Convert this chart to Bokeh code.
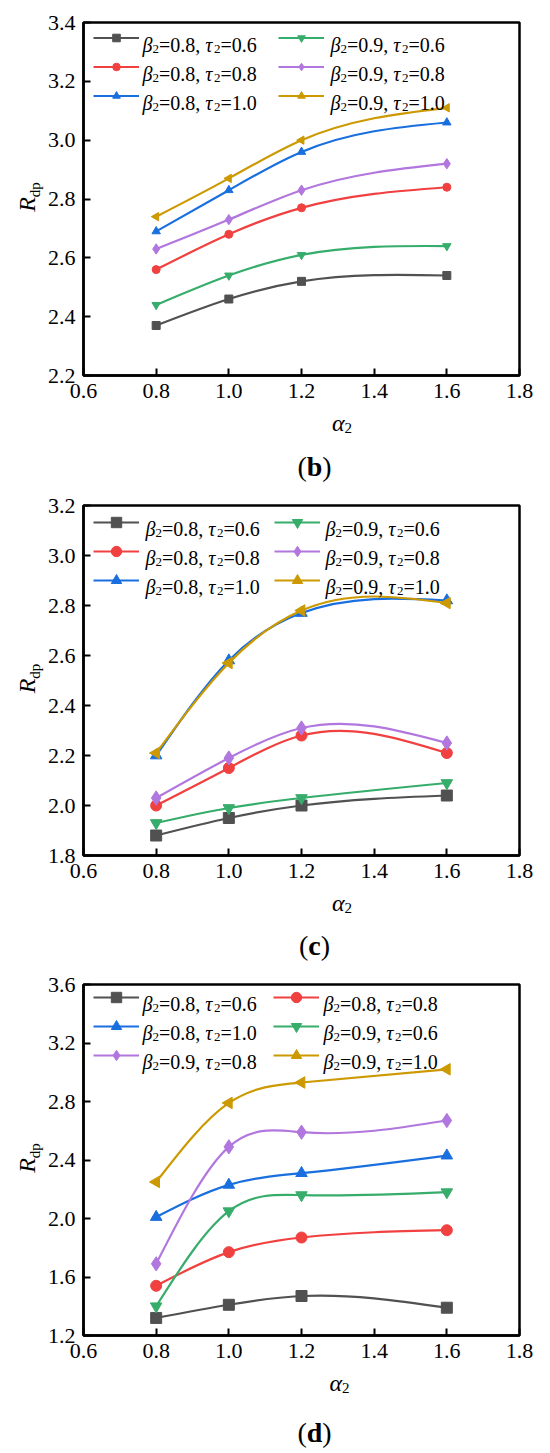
import numpy as np
from bokeh.plotting import figure
from bokeh.models import (Range1d, FixedTicker, PrintfTickFormatter, Label, Legend,
                          LegendItem, ColumnDataSource)
from bokeh.layouts import column, row
from bokeh.embed import file_html
from bokeh.resources import INLINE

FONT = "Liberation Serif"

# ---------------- data ----------------
alpha2 = [0.8, 1.0, 1.2, 1.6]
x_ticks = [0.6, 0.8, 1.0, 1.2, 1.4, 1.6, 1.8]

series_beta = ["0.8", "0.8", "0.8", "0.9", "0.9", "0.9"]
series_tau = ["0.6", "0.8", "1.0", "0.6", "0.8", "1.0"]

# panel (b)
b_b08_t06 = [2.37, 2.46, 2.52, 2.54]
b_b08_t08 = [2.56, 2.68, 2.77, 2.84]
b_b08_t10 = [2.69, 2.83, 2.96, 3.06]
b_b09_t06 = [2.44, 2.54, 2.61, 2.64]
b_b09_t08 = [2.63, 2.73, 2.83, 2.92]
b_b09_t10 = [2.74, 2.87, 3.00, 3.11]
b_y_ticks = [2.2, 2.4, 2.6, 2.8, 3.0, 3.2, 3.4]

# panel (c)
c_b08_t06 = [1.88, 1.95, 2.00, 2.04]
c_b08_t08 = [2.00, 2.15, 2.28, 2.21]
c_b08_t10 = [2.20, 2.58, 2.77, 2.82]
c_b09_t06 = [1.93, 1.99, 2.03, 2.09]
c_b09_t08 = [2.03, 2.19, 2.31, 2.25]
c_b09_t10 = [2.21, 2.57, 2.78, 2.81]
c_y_ticks = [1.8, 2.0, 2.2, 2.4, 2.6, 2.8, 3.0, 3.2]

# panel (d)
d_b08_t06 = [1.32, 1.41, 1.47, 1.39]
d_b08_t08 = [1.54, 1.77, 1.87, 1.92]
d_b08_t10 = [2.01, 2.23, 2.31, 2.43]
d_b09_t06 = [1.40, 2.05, 2.16, 2.18]
d_b09_t08 = [1.69, 2.49, 2.59, 2.67]
d_b09_t10 = [2.25, 2.79, 2.93, 3.02]
d_y_ticks = [1.2, 1.6, 2.0, 2.4, 2.8, 3.2, 3.6]

# ---------------- styles ----------------
colors = ["#515151", "#F14040", "#1A6FDF", "#37AD6B", "#B177DE", "#CC9900"]
markers = ["square", "circle", "triangle", "inverted_triangle", "diamond", "triangle"]
marker_angles = [0, 0, 0, 0, 0, np.pi / 2]
marker_scale = [1.0, 1.0, 1.05, 1.05, 1.3, 1.05]

W_REG = {ch: 0.5 for ch in "0123456789dp"}
W_REG.update({".": 0.25, ",": 0.25, " ": 0.25, "=": 0.564, "(": 0.333, ")": 0.333})
W_IT = {"β": 0.5, "τ": 0.44, "α": 0.52, "R": 0.611}
W_BOLD = {"b": 0.556, "c": 0.444, "d": 0.556}

PAGE_W, PAGE_H = 550, 1453
LEFT_W = 44
RIGHT_W = PAGE_W - LEFT_W


def text_width(text, size, style):
    tbl = W_IT if style == "italic" else (W_BOLD if style == "bold" else W_REG)
    return sum(tbl.get(ch, W_REG.get(ch, 0.5)) for ch in text) * size


def put(p, fx, fy, text, size, style="normal", angle=0.0):
    # fx, fy: pixels from the top-left corner of p's frame
    p.add_layout(Label(x=p.x_range.start, y=p.y_range.end, x_units="data", y_units="data",
                       x_offset=fx, y_offset=-fy, text=text, angle=angle,
                       text_font=FONT, text_font_size=f"{size}px", text_font_style=style,
                       text_color="black", text_align="left", text_baseline="alphabetic"))


def rich(p, fx, fy, pieces, center=False):
    total = sum(text_width(t, s, st) for t, s, st, d in pieces)
    pos = fx - total / 2 if center else fx
    for t, s, st, d in pieces:
        put(p, pos, fy + d, t, s, st)
        pos += text_width(t, s, st)


def rich_vertical(p, fx, fy_center, pieces):
    total = sum(text_width(t, s, st) for t, s, st, d in pieces)
    pos = fy_center + total / 2
    for t, s, st, d in pieces:
        put(p, fx + d, pos, t, s, st, angle=np.pi / 2)
        pos -= text_width(t, s, st)


def spline_bezier(x, y):
    x = np.asarray(x, float)
    y = np.asarray(y, float)
    n = len(x)
    h = np.diff(x)
    A = np.zeros((n, n))
    r = np.zeros(n)
    A[0, 0] = A[-1, -1] = 1.0
    for i in range(1, n - 1):
        A[i, i - 1] = h[i - 1]
        A[i, i] = 2 * (h[i - 1] + h[i])
        A[i, i + 1] = h[i]
        r[i] = 6 * ((y[i + 1] - y[i]) / h[i] - (y[i] - y[i - 1]) / h[i - 1])
    M = np.linalg.solve(A, r)
    d = np.diff(y) / h
    m0 = d - h * (2 * M[:-1] + M[1:]) / 6
    m1 = d + h * (M[:-1] + 2 * M[1:]) / 6
    return dict(x0=x[:-1], y0=y[:-1], x1=x[1:], y1=y[1:],
                cx0=x[:-1] + h / 3, cy0=y[:-1] + m0 * h / 3,
                cx1=x[1:] - h / 3, cy1=y[1:] - m1 * h / 3)


def legend_pieces(beta, tau):
    return [("β", 20, "italic", 0), ("2", 13, "normal", 4), ("=" + beta + ",", 20, "normal", 0),
            (" ", 20, "normal", 0), ("τ", 20, "italic", 0), ("2", 13, "normal", 4),
            ("=" + tau, 20, "normal", 0)]


def blank_fig(w, h):
    p = figure(width=w, height=h, x_range=Range1d(0, w), y_range=Range1d(0, h),
               x_axis_type=None, y_axis_type=None, output_backend="svg",
               toolbar_location=None, min_border=0)
    p.outline_line_color = None
    p.background_fill_color = "white"
    p.border_fill_color = "white"
    p.grid.visible = False
    return p


def make_panel(series, y_ticks, cfg):
    height = cfg["top"] + cfg["fh"] + cfg["bottom"]
    p = figure(width=RIGHT_W, height=height, x_range=Range1d(0.6, 1.8),
               y_range=Range1d(y_ticks[0], y_ticks[-1]), output_backend="svg",
               toolbar_location=None, min_border_left=cfg["left"], min_border_right=cfg["right"],
               min_border_top=cfg["top"], min_border_bottom=cfg["bottom"])
    p.background_fill_color = "white"
    p.border_fill_color = "white"
    p.xgrid.visible = False
    p.ygrid.visible = False
    p.outline_line_color = "black"
    p.outline_line_width = 2.5
    p.xaxis.ticker = FixedTicker(ticks=x_ticks)
    p.yaxis.ticker = FixedTicker(ticks=y_ticks)
    p.axis.formatter = PrintfTickFormatter(format="%.1f")
    p.axis.axis_line_width = 2.5
    p.axis.axis_line_color = "black"
    p.axis.major_tick_line_width = 2
    p.axis.major_tick_line_color = "black"
    p.axis.major_tick_in = 7
    p.axis.major_tick_out = 0
    p.axis.minor_tick_line_color = None
    p.axis.major_label_text_font = FONT
    p.axis.major_label_text_font_size = "22px"
    p.axis.major_label_text_color = "black"
    p.xaxis.major_label_standoff = 8
    p.yaxis.major_label_standoff = 8

    items = []
    for i, ys in enumerate(series):
        src = ColumnDataSource(spline_bezier(alpha2, ys))
        br = p.bezier(x0="x0", y0="y0", x1="x1", y1="y1", cx0="cx0", cy0="cy0",
                      cx1="cx1", cy1="cy1", source=src, line_color=colors[i], line_width=2.2)
        sr = p.scatter(alpha2, ys, marker=markers[i], angle=marker_angles[i],
                       size=cfg["msize"] * marker_scale[i], fill_color=colors[i],
                       line_color=colors[i])
        items.append(LegendItem(label=" ", renderers=[br, sr]))

    gh, sp, fh = cfg["gh"], cfg["sp"], cfg["fh"]
    for col, idxs in enumerate(cfg["cols"]):
        n = len(idxs)
        lh = n * gh + (n - 1) * sp
        leg = Legend(items=[items[k] for k in idxs],
                     location=(cfg["leg_x"][col], fh - cfg["leg_y"] - lh),
                     orientation="vertical", glyph_width=46, glyph_height=gh, label_height=gh,
                     label_width=0, label_standoff=0, spacing=sp, padding=0, margin=0,
                     border_line_color=None, background_fill_alpha=0, label_text_font_size="1px")
        p.add_layout(leg)
        for r_, k in enumerate(idxs):
            yb = cfg["leg_y"] + gh / 2 + r_ * (gh + sp) + 6.5
            rich(p, cfg["txt_x"][col], yb, legend_pieces(series_beta[k], series_tau[k]))
    return p


def make_below(h, cfg, letter):
    q = blank_fig(RIGHT_W, h)
    fw = RIGHT_W - cfg["left"] - cfg["right"]
    cx = cfg["left"] + fw / 2
    rich(q, cx, cfg["xlab_y"], [("α", 24, "italic", 0), ("2", 15, "normal", 5)], center=True)
    rich(q, PAGE_W / 2 - LEFT_W, cfg["cap_y"],
         [("(", 28, "normal", 0), (letter, 28, "bold", 0), (")", 28, "normal", 0)], center=True)
    return q


cfg_b = dict(top=22, fh=353, bottom=34, left=39, right=28, msize=8, gh=19, sp=10,
             cols=[[0, 1, 2], [3, 4, 5]], leg_x=[10, 195], leg_y=6, txt_x=[59, 247],
             xlab_y=13.5, cap_y=57)
cfg_c = dict(top=17, fh=350, bottom=34, left=39, right=28, msize=11, gh=26, sp=3,
             cols=[[0, 1, 2], [3, 4, 5]], leg_x=[10, 191], leg_y=4, txt_x=[62, 242],
             xlab_y=13.5, cap_y=56)
cfg_d = dict(top=16, fh=351, bottom=34, left=37, right=31, msize=11, gh=26, sp=3,
             cols=[[0, 2, 4], [1, 3, 5]], leg_x=[10, 190], leg_y=0, txt_x=[59, 240],
             xlab_y=13.5, cap_y=63)

C_START = 488   # page y where the figure of panel (c) begins
D_START = 968   # page y where the figure of panel (d) begins

pb = make_panel([b_b08_t06, b_b08_t08, b_b08_t10, b_b09_t06, b_b09_t08, b_b09_t10], b_y_ticks, cfg_b)
pc = make_panel([c_b08_t06, c_b08_t08, c_b08_t10, c_b09_t06, c_b09_t08, c_b09_t10], c_y_ticks, cfg_c)
pd = make_panel([d_b08_t06, d_b08_t08, d_b08_t10, d_b09_t06, d_b09_t08, d_b09_t10], d_y_ticks, cfg_d)

qb = make_below(C_START - pb.height, cfg_b, "b")
qc = make_below(D_START - (C_START + pc.height), cfg_c, "c")
qd = make_below(PAGE_H - (D_START + pd.height), cfg_d, "d")

# left strip carrying the y-axis titles
left = blank_fig(LEFT_W, PAGE_H)
frame_centers = [cfg_b["top"] + cfg_b["fh"] / 2,
                 C_START + cfg_c["top"] + cfg_c["fh"] / 2,
                 D_START + cfg_d["top"] + cfg_d["fh"] / 2]
for yc in frame_centers:
    rich_vertical(left, 26, yc - 2, [("R", 24, "italic", 0), ("dp", 15, "normal", 8)])

layout = row(left, column(pb, qb, pc, qc, pd, qd, spacing=0), spacing=0)
open("out.html", "w").write(file_html(layout, INLINE))
